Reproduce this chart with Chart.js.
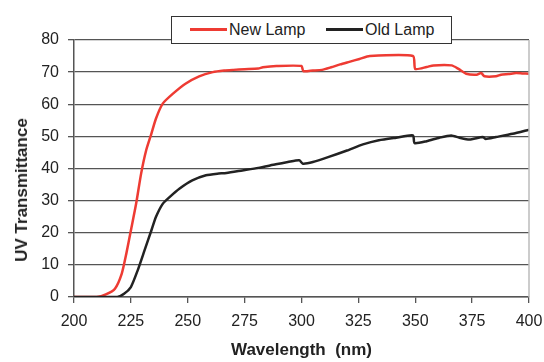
<!DOCTYPE html>
<html>
<head>
<meta charset="utf-8">
<script src="https://cdn.jsdelivr.net/npm/chart.js@4.4.0/dist/chart.umd.min.js"></script>
<style>
    body { margin: 0; background: #fff; }
    #wrap { position: relative; width: 544px; height: 362px; }
    #legend {
        position: absolute; left: 171px; top: 16px; width: 279px; height: 26px;
        background: #fff; border: 1.5px solid #333;
        font: 16px "Liberation Sans", Arial, sans-serif; color: #222;
    }
    #legend .item { position: absolute; top: 4px; white-space: nowrap; }
    #legend .swatch { display: inline-block; width: 37px; height: 3px; vertical-align: middle; margin-right: 2px; position: relative; top: -1px; }
    #ytitle {
        position: absolute; left: 22px; top: 190px; white-space: nowrap;
        transform: translate(-50%, -50%) rotate(-90deg);
        font: bold 17px "Liberation Sans", Arial, sans-serif; color: #222;
    }
</style>
</head>
<body>
<div id="wrap">
    <canvas id="uvChart" width="544" height="362"></canvas>
    <div id="ytitle">UV Transmittance</div>
    <div id="legend">
        <span class="item" style="left:18px"><span class="swatch" style="background:#ee3b33"></span>New Lamp</span>
        <span class="item" style="left:154px"><span class="swatch" style="background:#222"></span>Old Lamp</span>
    </div>
</div>
<script>
// wavelength (nm) / transmittance
const newNm = [200, 210, 214, 218, 221, 223, 225, 227.3, 229.5, 231.7, 234, 236, 239, 243.5, 249, 255, 261, 266, 270, 275, 281, 283, 289, 300,
    300.8, 305, 309, 313, 317, 321, 325.5, 330, 349, 350, 355, 358, 366, 369, 372.4, 377, 379, 380.4, 385.5, 387.7, 391, 394.3, 397, 400];
const newT = [0, 0, 0.8, 2.6, 7.3, 13.5, 20.7, 29, 38.4, 45.6, 50.8, 55.5, 60.2, 63.3, 66.4, 68.7, 70, 70.5, 70.7, 70.9, 71.1, 71.5, 71.9, 71.9,
    70.3, 70.5, 70.7, 71.5, 72.4, 73.2, 74.1, 75, 75, 71, 71.6, 72.1, 72.1, 71, 69.5, 69.2, 69.7, 68.7, 68.7, 69.2, 69.4, 69.7, 69.6, 69.5];

const oldNm = [200, 219, 222, 225, 228, 231, 234, 236, 239, 242, 246.3, 252, 258, 263, 267, 274, 281, 288.7, 294, 299, 300.6, 305, 312, 320,
    327, 334, 341.6, 349, 349.7, 355, 360.6, 365.8, 369.4, 373.8, 379.7, 381, 385.5, 392.8, 400];
const oldT = [0, 0, 1, 3.1, 8.3, 14.5, 20.7, 24.9, 29, 31.1, 33.7, 36.3, 37.9, 38.4, 38.6, 39.4, 40.2, 41.3, 42, 42.6, 41.5, 42, 43.6, 45.6,
    47.5, 48.8, 49.6, 50.3, 47.9, 48.5, 49.6, 50.3, 49.6, 49, 49.8, 49.2, 49.8, 50.8, 52.1];

const xMin = 200, xMax = 400, xStep = 25;
const yMin = 0, yMax = 80, yStep = 10;

const toPoints = (xs, ys) => xs.map((x, i) => ({ x: x, y: ys[i] }));

const gridColor = '#555';
const font = { family: '"Liberation Sans", Arial, sans-serif', size: 16 };
const titleFont = { family: '"Liberation Sans", Arial, sans-serif', size: 17, weight: 'bold' };

// light grey frame line on the right edge of the plot
const rightEdge = {
    id: 'rightEdge',
    afterDraw(chart) {
        const { ctx, chartArea } = chart;
        ctx.save();
        ctx.strokeStyle = '#bbb';
        ctx.lineWidth = 1.5;
        ctx.beginPath();
        ctx.moveTo(chartArea.right, chartArea.top);
        ctx.lineTo(chartArea.right, chartArea.bottom);
        ctx.stroke();
        ctx.restore();
    }
};

new Chart(document.getElementById('uvChart'), {
    type: 'line',
    data: {
        datasets: [
            {
                label: 'Old Lamp',
                data: toPoints(oldNm, oldT),
                borderColor: '#222',
                borderWidth: 2.5,
                pointRadius: 0,
                tension: 0.2
            },
            {
                label: 'New Lamp',
                data: toPoints(newNm, newT),
                borderColor: '#ee3b33',
                borderWidth: 2.5,
                pointRadius: 0,
                tension: 0.2
            }
        ]
    },
    options: {
        responsive: false,
        animation: false,
        layout: { padding: { left: 0, right: 0, top: 40, bottom: 0 } },
        plugins: { legend: { display: false }, tooltip: { enabled: false } },
        scales: {
            x: {
                type: 'linear',
                min: xMin, max: xMax,
                afterFit(scale) { scale.height = 65; scale.paddingRight = 15; },
                ticks: { stepSize: xStep, color: '#222', font: font, padding: 9, maxRotation: 0 },
                grid: { drawOnChartArea: false, drawTicks: true, tickLength: 6, color: gridColor, lineWidth: 1.3 },
                border: { display: true, color: gridColor, width: 1.5 },
                title: { display: true, text: 'Wavelength  (nm)', color: '#222', font: titleFont, padding: { top: 0, bottom: 1 } }
            },
            y: {
                min: yMin, max: yMax,
                afterFit(scale) { scale.width = 74; },
                ticks: { stepSize: yStep, color: '#222', font: font, padding: 9 },
                grid: { color: gridColor, lineWidth: 1.3, tickLength: 6 },
                border: { display: true, color: gridColor, width: 1.5 }
            }
        }
    },
    plugins: [rightEdge]
});
</script>
</body>
</html>
